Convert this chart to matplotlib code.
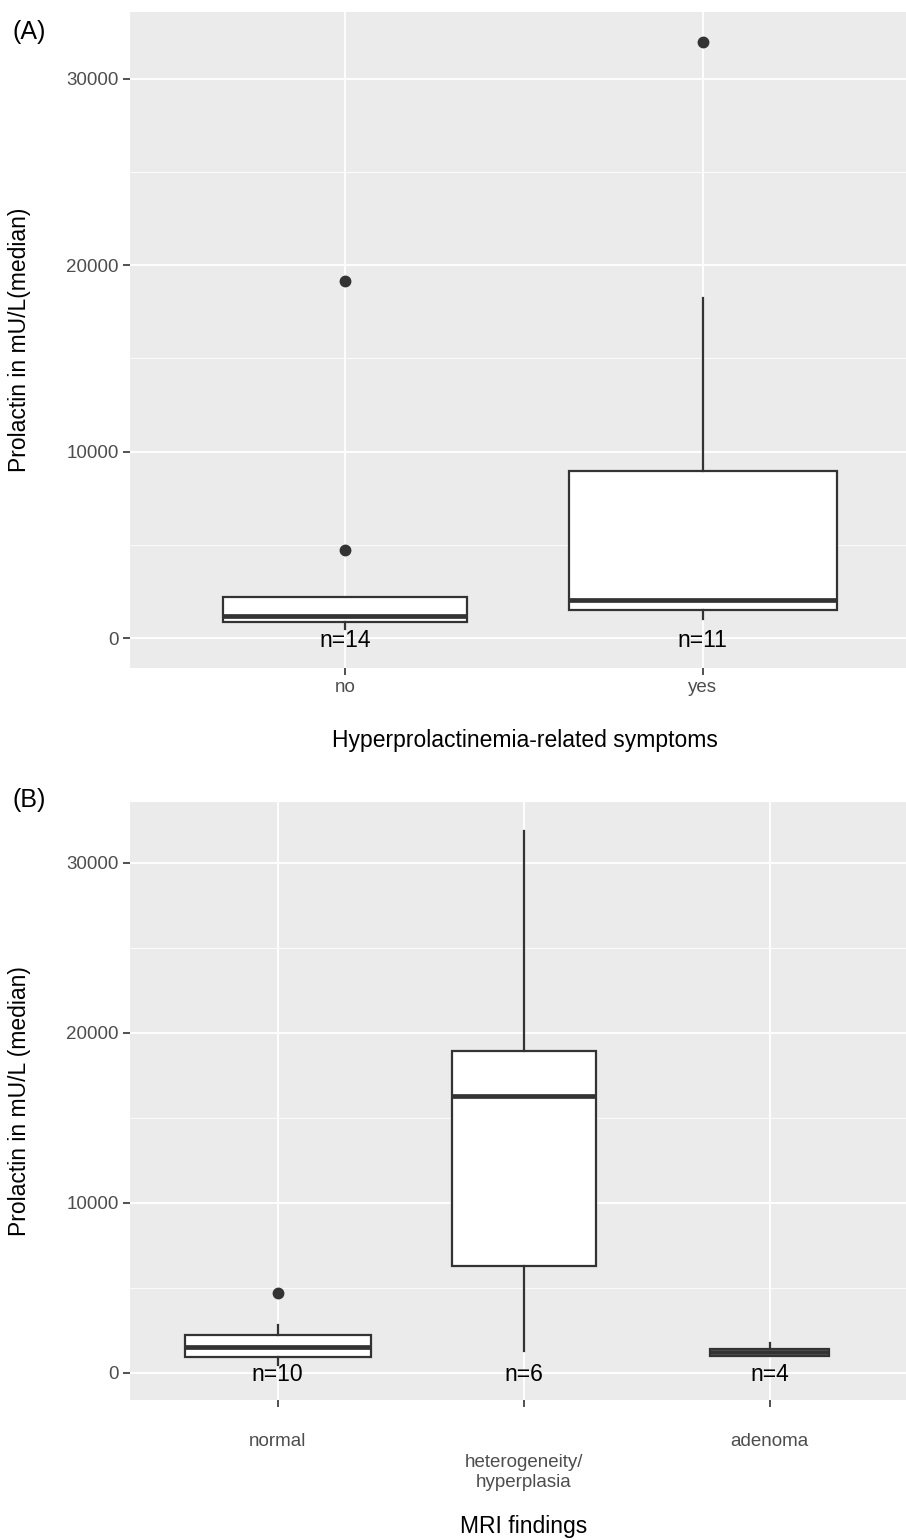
import numpy as np
import matplotlib.pyplot as plt

plt.rcParams['font.family'] = ['Liberation Sans', 'DejaVu Sans']

# panel A: hyperprolactinemia-related symptoms
a_groups = ['no', 'yes']
a_n = [14, 11]
a_whislo = [482, 1055]
a_q1 = [873, 1500]
a_med = [1178, 2052]
a_q3 = [2213, 8963]
a_whishi = [2213, 18268]
a_fliers = [[4714, 19141], [31980]]

# panel B: MRI findings
b_groups = ['normal', 'heterogeneity/\nhyperplasia', 'adenoma']
b_n = [10, 6, 4]
b_whislo = [431, 1311, 1000]
b_q1 = [923, 6290, 1018]
b_med = [1510, 16290, 1230]
b_q3 = [2235, 18950, 1394]
b_whishi = [2823, 31870, 1747]
b_fliers = [[4686], [], []]

yticks = [0, 10000, 20000, 30000]
yminor = [5000, 15000, 25000]

dark = '#333333'
grey_txt = '#4D4D4D'
W, H = 906, 1540


def make_stats(groups, whislo, q1, med, q3, whishi, fliers):
    out = []
    for i in range(len(groups)):
        out.append(dict(whislo=whislo[i], q1=q1[i], med=med[i], q3=q3[i],
                        whishi=whishi[i], fliers=fliers[i], label=groups[i]))
    return out


def gg_panel(ax, stats, widths, xmax):
    ax.set_facecolor('#EBEBEB')
    for s in ax.spines.values():
        s.set_visible(False)
    pos = np.arange(1, len(stats) + 1)
    for y in yminor:
        ax.axhline(y, color='white', lw=0.6, zorder=0)
    for y in yticks:
        ax.axhline(y, color='white', lw=1.3, zorder=0)
    for x in pos:
        ax.axvline(x, color='white', lw=1.3, zorder=0)
    ax.bxp(stats, positions=pos, widths=widths, patch_artist=True,
           showcaps=False,
           boxprops=dict(facecolor='white', edgecolor=dark, linewidth=1.6),
           whiskerprops=dict(color=dark, linewidth=1.6),
           medianprops=dict(color=dark, linewidth=3.4, solid_capstyle='butt'),
           flierprops=dict(marker='o', markerfacecolor=dark, markeredgecolor=dark,
                           markersize=7.5))
    ax.set_xlim(0.4, xmax)
    ax.set_ylim(-1599, 33579)
    ax.set_yticks(yticks)
    ax.set_yticklabels([str(v) for v in yticks])
    ax.tick_params(colors=dark, length=5, width=1.2, labelcolor=grey_txt, labelsize=13.5)
    ax.tick_params(axis='y', pad=3)
    return pos


def n_labels(ax, pos, ns):
    for p, n in zip(pos, ns):
        ax.annotate('n=%d' % n, xy=(p, 0), xytext=(0, -1.5), textcoords='offset points',
                    ha='center', va='center', fontsize=16.5, color='black')


fig = plt.figure(figsize=(W / 100, H / 100), dpi=100)

# (A)
a_top, a_bot = 12, 668
axA = fig.add_axes([130 / W, 1 - a_bot / H, 776 / W, (a_bot - a_top) / H])
statsA = make_stats(a_groups, a_whislo, a_q1, a_med, a_q3, a_whishi, a_fliers)
posA = gg_panel(axA, statsA, [0.68, 0.75], 0.4 + 776 / 358)
axA.set_xticks(posA)
axA.set_xticklabels(a_groups)
axA.tick_params(axis='x', pad=3)
n_labels(axA, posA, a_n)
axA.set_ylabel('Prolactin in mU/L(median)', fontsize=16.5, va='center')
axA.yaxis.set_label_coords((20 - 130) / 776, 0.5)
axA.set_xlabel('Hyperprolactinemia-related symptoms', fontsize=16.5, va='center')
axA.xaxis.set_label_coords((525 - 130) / 776, -(740 - a_bot) / (a_bot - a_top))
fig.text(12 / W, 1 - 32 / H, '(A)', fontsize=18, va='center', ha='left')

# (B)
b_top, b_bot = 802, 1400
axB = fig.add_axes([130 / W, 1 - b_bot / H, 776 / W, (b_bot - b_top) / H])
statsB = make_stats(b_groups, b_whislo, b_q1, b_med, b_q3, b_whishi, b_fliers)
posB = gg_panel(axB, statsB, [0.756, 0.585, 0.484], 0.4 + 776 / 246)
axB.set_xticks(posB)
# middle label sits one row lower, like ggplot's n.dodge
axB.set_xticklabels([b_groups[0], '', b_groups[2]])
axB.tick_params(axis='x', pad=18.5)
axB.annotate(b_groups[1], xy=(posB[1], 0), xycoords=('data', 'axes fraction'),
             xytext=(0, -39), textcoords='offset points', ha='center', va='top',
             fontsize=13.5, color=grey_txt, linespacing=1.2)
n_labels(axB, posB, b_n)
axB.set_ylabel('Prolactin in mU/L (median)', fontsize=16.5, va='center')
axB.yaxis.set_label_coords((20 - 130) / 776, 0.5)
axB.set_xlabel('MRI findings', fontsize=16.5, va='center')
axB.xaxis.set_label_coords((524 - 130) / 776, -(1526 - b_bot) / (b_bot - b_top))
fig.text(12 / W, 1 - 800 / H, '(B)', fontsize=18, va='center', ha='left')

fig.savefig('out.png', dpi=100)
